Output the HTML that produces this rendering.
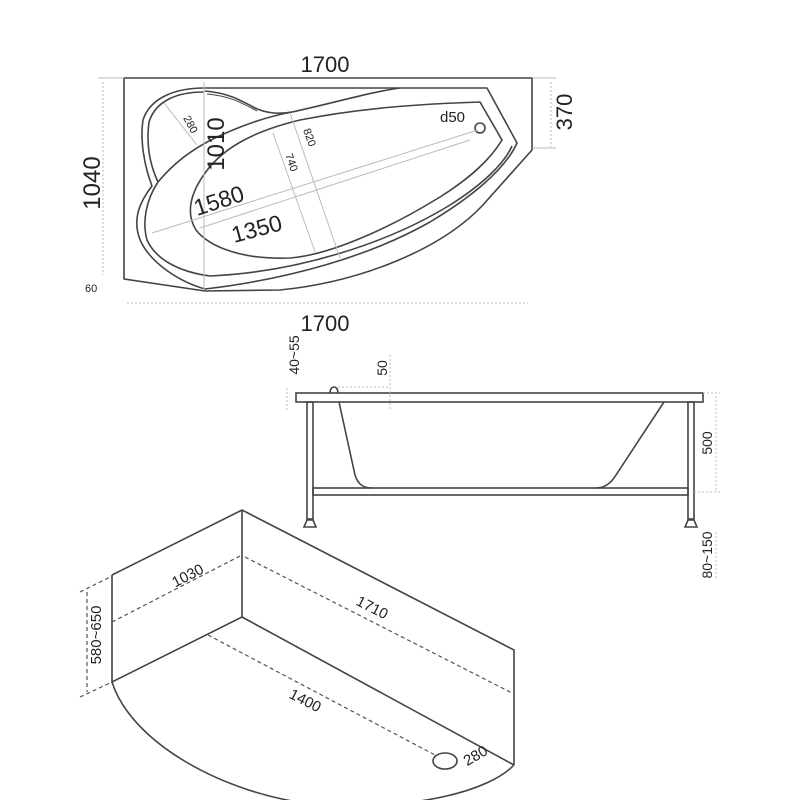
<!DOCTYPE html>
<html><head><meta charset="utf-8"><style>
html,body{margin:0;padding:0;background:#fff;width:800px;height:800px;overflow:hidden}
svg{display:block}
text{font-family:"Liberation Sans",sans-serif;fill:#222}
</style></head><body>
<svg width="800" height="800" viewBox="0 0 800 800" xmlns="http://www.w3.org/2000/svg">
<g fill="none" stroke="#444" stroke-width="1.6" stroke-linejoin="round">
<!-- TOP VIEW outer -->
<path d="M124,78 L532,78 L532,150 L482,206 C440,250 360,282 280,290 L205,291 L124,279 Z"/>
<!-- rim outer -->
<path d="M204,88 L487,88 L517,143 C505,170 470,198 430,222 C370,256 290,279 205,289 C180,282 152,264 141,242 C132,222 138,204 152,186 C144,165 140,140 143,120 C150,98 175,88 204,88 Z"/>
<!-- lobe inner line -->
<path d="M204,92 C178,92 156,100 149,122 C146,145 150,165 158,182"/>
<!-- S curve -->
<path d="M205,91 C228,93 240,100 255,108 C268,114 280,114 292,112 C330,104 370,92 400,88"/>
<path d="M207,94 C230,96 242,103 257,111" stroke-width="1"/>
<!-- seat line -->
<path d="M158,182 C172,165 190,150 215,138 C240,126 265,117 292,112"/>
<!-- rim inner -->
<path d="M158,182 C146,200 142,222 147,240 C156,260 180,272 210,276 C300,272 390,242 450,205 C485,183 505,162 512,146"/>
<!-- basin -->
<path d="M480,102 L502,140 C490,160 470,178 440,197 C390,228 330,255 290,258 C245,260 210,248 196,230 C186,214 190,195 203,176 C220,150 250,132 300,120 C360,108 420,104 480,102 Z"/>
<circle cx="480" cy="128" r="5"/>
</g>
<!-- top view dims -->
<g stroke="#bbb" stroke-width="1" fill="none">
<line x1="103" y1="82" x2="103" y2="275" stroke-dasharray="2,2"/>
<line x1="127" y1="303" x2="528" y2="303" stroke-dasharray="2,2"/>
<line x1="551" y1="82" x2="551" y2="147" stroke-dasharray="2,2"/>
<line x1="98" y1="78" x2="124" y2="78"/>
<line x1="533" y1="148" x2="556" y2="148"/>
<line x1="533" y1="78" x2="556" y2="78"/>
<line x1="152" y1="233" x2="478" y2="130"/>
<line x1="200" y1="228" x2="470" y2="140"/>
<line x1="204" y1="82" x2="204" y2="290"/>
<line x1="273" y1="133" x2="315" y2="252"/>
<line x1="290" y1="113" x2="340" y2="258"/>
<line x1="164" y1="103" x2="197" y2="145"/>
</g>
<g fill="#222">
<text x="325" y="72" text-anchor="middle" font-size="22">1700</text>
<text x="325" y="331" text-anchor="middle" font-size="22">1700</text>
<text transform="translate(100,183) rotate(-90)" text-anchor="middle" font-size="24">1040</text>
<text transform="translate(572,112) rotate(-90)" text-anchor="middle" font-size="22">370</text>
<text x="85" y="292" font-size="11">60</text>
<text transform="translate(183,118) rotate(62)" font-size="11">280</text>
<text transform="translate(224,144) rotate(-90)" text-anchor="middle" font-size="24">1010</text>
<text transform="translate(303,130) rotate(70)" font-size="11">820</text>
<text transform="translate(285,155) rotate(70)" font-size="11">740</text>
<text transform="translate(197,216) rotate(-18)" font-size="23">1580</text>
<text transform="translate(234,243) rotate(-15)" font-size="23">1350</text>
<text x="440" y="122" font-size="15">d50</text>
</g>
<!-- SIDE VIEW -->
<g fill="none" stroke="#444" stroke-width="1.6">
<rect x="296" y="393" width="407" height="9"/>
<path d="M330,393 C330,385 338,385 338,393"/>
<rect x="307" y="402" width="6" height="117"/>
<rect x="688" y="402" width="6" height="117"/>
<rect x="313" y="488" width="375" height="7"/>
<path d="M339,402 L355,475 C358,485 364,488 372,488"/>
<path d="M664,402 L616,475 C610,485 603,488 596,488"/>
<path d="M304,527 L316,527 L313,520 L307,520 Z"/>
<path d="M685,527 L697,527 L694,520 L688,520 Z"/>
</g>
<g stroke="#bbb" stroke-width="1" stroke-dasharray="2,2">
<line x1="287" y1="388" x2="287" y2="410"/>
<line x1="390" y1="355" x2="390" y2="410"/>
<line x1="716" y1="396" x2="716" y2="492"/>
<line x1="716" y1="532" x2="716" y2="580"/>
<line x1="338" y1="387" x2="390" y2="387"/>
<line x1="703" y1="393" x2="720" y2="393"/>
<line x1="694" y1="492" x2="720" y2="492"/>
</g>
<g font-size="14">
<text transform="translate(299,355) rotate(-90)" text-anchor="middle">40~55</text>
<text transform="translate(387,368) rotate(-90)" text-anchor="middle">50</text>
<text transform="translate(712,443) rotate(-90)" text-anchor="middle">500</text>
<text transform="translate(712,555) rotate(-90)" text-anchor="middle">80~150</text>
</g>
<!-- 3D VIEW -->
<g fill="none" stroke="#444" stroke-width="1.6">
<path d="M112,575 L242,510 L514,650 L514,765"/>
<path d="M242,510 L242,617 L112,682 L112,575"/>
<path d="M242,617 L514,765"/>
<path d="M112,682 C130,740 220,795 320,805 C420,810 490,790 514,765"/>
<ellipse cx="445" cy="761" rx="12" ry="8"/>
</g>
<g fill="none" stroke="#555" stroke-width="1.2" stroke-dasharray="4,3">
<line x1="112" y1="622" x2="240" y2="556"/>
<line x1="245" y1="557" x2="512" y2="693"/>
<line x1="208" y1="635" x2="435" y2="755"/>
<line x1="87" y1="592" x2="87" y2="692"/>
<line x1="80" y1="592" x2="112" y2="576"/>
<line x1="80" y1="697" x2="112" y2="682"/>
</g>
<g font-size="15">
<text transform="translate(190,580) rotate(-27)" text-anchor="middle">1030</text>
<text transform="translate(370,612) rotate(27)" text-anchor="middle">1710</text>
<text transform="translate(303,705) rotate(27)" text-anchor="middle">1400</text>
<text transform="translate(101,635) rotate(-90)" text-anchor="middle">580~650</text>
<text transform="translate(478,760) rotate(-30)" text-anchor="middle">280</text>
</g>
</svg>
</body></html>
